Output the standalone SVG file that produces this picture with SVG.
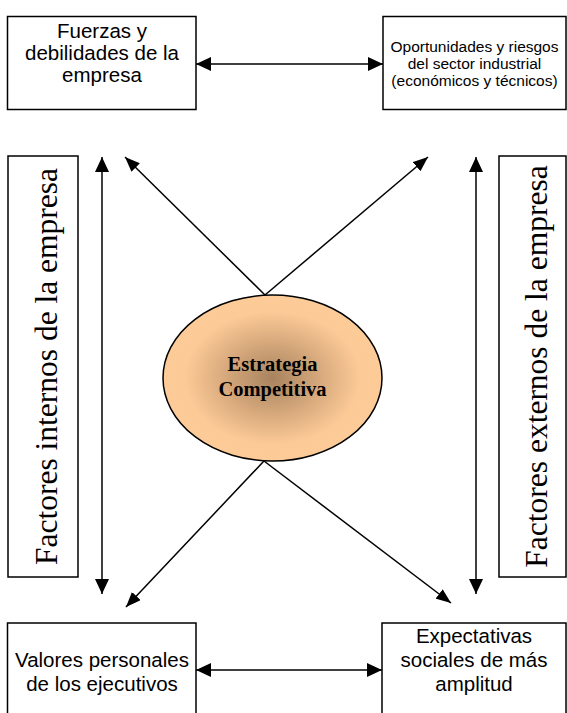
<svg xmlns="http://www.w3.org/2000/svg" width="567" height="713" viewBox="0 0 567 713">
<style>
.box{fill:#fff;stroke:#000;stroke-width:1.5}
.con{stroke:#000;stroke-width:1.5;fill:none}
.sans{font-family:"Liberation Sans",Arial,sans-serif;fill:#000;text-anchor:middle}
.serif{font-family:"Liberation Serif","Times New Roman",serif;fill:#000;text-anchor:middle}
</style>
<defs>
<marker id="ah" markerUnits="userSpaceOnUse" markerWidth="15" markerHeight="14" refX="15" refY="7" orient="auto-start-reverse" viewBox="0 0 15 14">
<path d="M0,0 L15,7 L0,14 z" fill="#000"/>
</marker>
<marker id="ahs" markerUnits="userSpaceOnUse" markerWidth="15" markerHeight="12" refX="15" refY="6" orient="auto" viewBox="0 0 15 12">
<path d="M0,0 L15,6 L0,12 z" fill="#000"/>
</marker>
<radialGradient id="eg" cx="0.5" cy="0.5" r="0.5">
<stop offset="0" stop-color="#a8835f"/>
<stop offset="0.45" stop-color="#d8aa7d"/>
<stop offset="0.8" stop-color="#fcca97"/>
<stop offset="1" stop-color="#fdcb98"/>
</radialGradient>
</defs>

<g id="connectors">
<line class="con" x1="196" y1="64" x2="383" y2="64" marker-start="url(#ah)" marker-end="url(#ah)"/>
<line class="con" x1="196" y1="670" x2="382" y2="670" marker-start="url(#ah)" marker-end="url(#ah)"/>
<line class="con" x1="102" y1="157" x2="102" y2="594" marker-start="url(#ah)" marker-end="url(#ah)"/>
<line class="con" x1="476" y1="157" x2="476" y2="594" marker-start="url(#ah)" marker-end="url(#ah)"/>
<line class="con" x1="265" y1="295" x2="125" y2="157" marker-end="url(#ahs)"/>
<line class="con" x1="265" y1="295" x2="428" y2="157" marker-end="url(#ahs)"/>
<line class="con" x1="264" y1="461" x2="126" y2="607" marker-end="url(#ahs)"/>
<line class="con" x1="264" y1="461" x2="451" y2="603" marker-end="url(#ahs)"/>
</g>

<g id="fuerzas">
<rect class="box" x="7.5" y="16.5" width="188.5" height="93"/>
<text class="sans" font-size="20.5"><tspan x="102" y="38">Fuerzas y</tspan><tspan x="102" y="60">debilidades de la</tspan><tspan x="102" y="82">empresa</tspan></text>
</g>

<g id="oportunidades">
<rect class="box" x="383" y="16.5" width="183" height="93"/>
<text class="sans" font-size="15.5"><tspan x="474.5" y="52">Oportunidades y riesgos</tspan><tspan x="474.5" y="69">del sector industrial</tspan><tspan x="474.5" y="86">(económicos y técnicos)</tspan></text>
</g>

<g id="factores-internos">
<rect class="box" x="8" y="156" width="70" height="421"/>
<text class="serif" font-size="31.5" transform="translate(57,366.5) rotate(-90)" x="0" y="0">Factores internos de la empresa</text>
</g>

<g id="factores-externos">
<rect class="box" x="499" y="156" width="67" height="421"/>
<text class="serif" font-size="31.5" transform="translate(547,366.5) rotate(-90)" x="0" y="0">Factores externos de la empresa</text>
</g>

<g id="estrategia">
<ellipse cx="272.5" cy="378" rx="109.5" ry="83" fill="url(#eg)" stroke="#000" stroke-width="1.5"/>
<text class="serif" font-size="20.5" font-weight="bold"><tspan x="272.5" y="371">Estrategia</tspan><tspan x="272.5" y="396">Competitiva</tspan></text>
</g>

<g id="valores">
<rect class="box" x="7.5" y="623" width="188.5" height="100"/>
<text class="sans" font-size="20.5"><tspan x="102" y="667">Valores personales</tspan><tspan x="102" y="691">de los ejecutivos</tspan></text>
</g>

<g id="expectativas">
<rect class="box" x="382" y="623" width="184" height="100"/>
<text class="sans" font-size="20.5"><tspan x="474" y="643">Expectativas</tspan><tspan x="474" y="667">sociales de más</tspan><tspan x="474" y="691">amplitud</tspan></text>
</g>
</svg>
